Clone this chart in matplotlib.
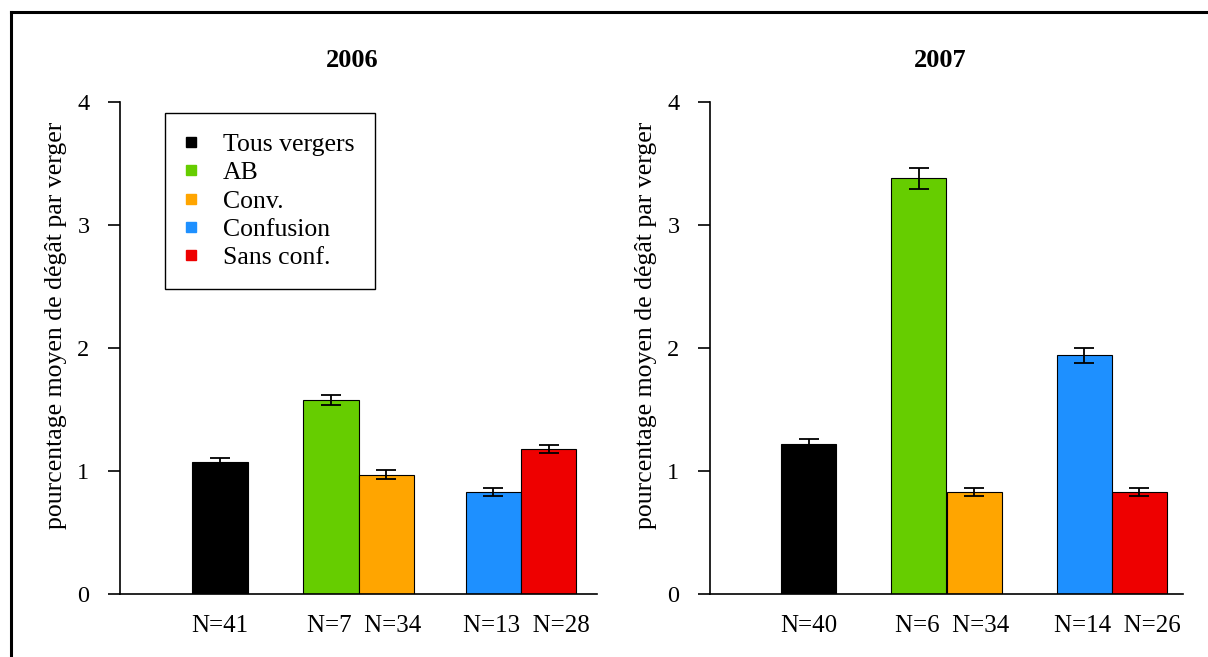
import matplotlib
matplotlib.use("Agg")
import matplotlib.pyplot as plt
from matplotlib.lines import Line2D
import numpy as np

# ---- data ----
categories = ['Tous vergers', 'AB', 'Conv.', 'Confusion', 'Sans conf.']
colors = ['#000000', '#66CD00', '#FFA500', '#1E90FF', '#EE0000']
means_2006 = [1.07, 1.58, 0.97, 0.83, 1.18]
se_2006 = [0.035, 0.04, 0.035, 0.035, 0.035]
means_2007 = [1.22, 3.38, 0.83, 1.94, 0.83]
se_2007 = [0.04, 0.085, 0.03, 0.06, 0.03]
n_2006 = [41, 7, 34, 13, 28]
n_2007 = [40, 6, 34, 14, 26]
groups = [[0], [1, 2], [3, 4]]
years = ['2006', '2007']
yticks = [0, 1, 2, 3, 4]
ylabel = 'pourcentage moyen de dégât par verger'

plt.rcParams['font.family'] = ['Liberation Serif', 'DejaVu Serif']

W, H = 1208, 657
fig = plt.figure(figsize=(W / 100, H / 100), dpi=100)

width = 1.0
xmax = 8.6
top_px, bot_px = 102, 594

panels = [
    (120, 477, [1.3, 1, 0, 0.93, 0], means_2006, se_2006, n_2006, years[0], True),
    (710, 473, [1.3, 1, 0, 1, 0], means_2007, se_2007, n_2007, years[1], False),
]

for left_px, w_px, spaces, means, se, ns, title, show_legend in panels:
    lefts = np.cumsum(spaces) + np.arange(len(spaces)) * width
    centers = lefts + width / 2
    ax = fig.add_axes([left_px / W, 1 - bot_px / H, w_px / W, (bot_px - top_px) / H])
    ax.bar(centers, means, width=width, color=colors, edgecolor='black',
           linewidth=0.8, zorder=2)
    ax.errorbar(centers, means, yerr=se, fmt='none', ecolor='black',
                elinewidth=1.3, capsize=7.5, capthick=1.3, zorder=3)
    ax.set_xlim(0, xmax)
    ax.set_ylim(0, 4)
    for s in ['top', 'right']:
        ax.spines[s].set_visible(False)
    for s in ['left', 'bottom']:
        ax.spines[s].set_linewidth(1.2)
    ax.set_yticks(yticks)
    ax.set_yticklabels([str(t) for t in yticks])
    ax.tick_params(axis='y', direction='out', length=9, width=1.2, pad=13,
                   labelsize=17.5)
    # one label per group, like R barplot names
    gpos = [np.mean(centers[g]) + (0.1 if len(g) > 1 else 0) for g in groups]
    glab = ['  '.join(f'N={ns[i]}' for i in g) for g in groups]
    ax.set_xticks(gpos)
    ax.set_xticklabels(glab)
    ax.tick_params(axis='x', length=0, pad=15, labelsize=18)
    ax.set_ylabel(ylabel, fontsize=18.5)
    ax.yaxis.set_label_coords(-0.112, 0.547)
    ax.text(0.486, 1.085, title, transform=ax.transAxes, ha='center',
            va='center', fontsize=19, fontweight='bold')
    if show_legend:
        handles = [Line2D([], [], marker='s', linestyle='none', markersize=7,
                          markerfacecolor=c, markeredgecolor=c)
                   for c in colors]
        leg = ax.legend(handles, categories, loc='upper left',
                        bbox_to_anchor=(0.094, 0.978), borderaxespad=0,
                        fontsize=18.5, frameon=True, fancybox=False,
                        edgecolor='black', framealpha=1, labelspacing=0.2,
                        handlelength=0.4, handletextpad=1.05, borderpad=0.8)
        leg.get_frame().set_linewidth(1.0)

# outer frame (top and left edges visible)
fig.add_artist(Line2D([11 / W, 1], [1 - 12 / H, 1 - 12 / H], color='black',
                      linewidth=2.2, transform=fig.transFigure))
fig.add_artist(Line2D([11 / W, 11 / W], [0, 1 - 12 / H], color='black',
                      linewidth=2.2, transform=fig.transFigure))

fig.savefig('out.png', dpi=100)
